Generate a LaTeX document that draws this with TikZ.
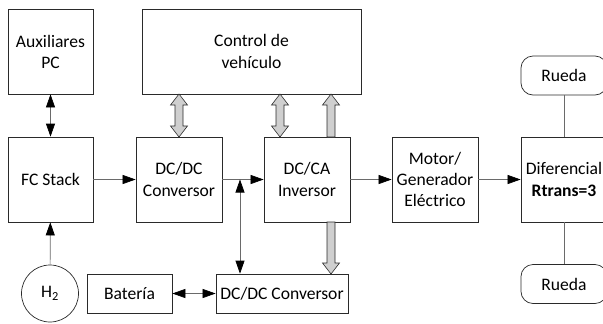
\documentclass[tikz,border=0pt]{standalone}
\usepackage{fontspec}
\setmainfont{Carlito}
\usetikzlibrary{positioning,arrows.meta,calc}
\definecolor{linegray}{HTML}{6A6A6A}
\definecolor{blockgray}{HTML}{CFCFCF}
\definecolor{edge}{HTML}{2A2A2A}

\begin{document}
\begin{tikzpicture}[x=0.03cm,y=-0.03cm,
    every node/.style={font=\fontsize{15}{18}\selectfont, align=center},
    box/.style={draw=edge, line width=0.6pt, minimum width=2.55cm, minimum height=2.55cm, inner sep=1pt},
    lowbox/.style={draw=edge, line width=0.6pt, minimum height=1.17cm, inner sep=1pt},
    wheel/.style={draw=edge, line width=0.6pt, rounded corners=0.36cm, minimum width=2.58cm, minimum height=1.17cm},
    flow/.style={draw=linegray, line width=0.6pt, -{Triangle[length=0.39cm,width=0.27cm,color=black]}},
    biflow/.style={draw=linegray, line width=0.6pt, {Triangle[length=0.39cm,width=0.27cm,color=black]}-{Triangle[length=0.39cm,width=0.27cm,color=black]}},
    plain/.style={draw=linegray, line width=0.6pt},
    fat/.style={draw=edge, fill=blockgray, line width=0.5pt, line join=miter}
  ]
    \clip (0,0) rectangle (603,323);

    % top row
    \node[box] (aux) at (50.5,51.5) {Auxiliares\\PC};
    \node[box, minimum width=6.57cm] (ctrl) at (251.5,51.5) {Control de\\vehículo};
    \node[wheel] (wheelup) at (564,75.5) {Rueda};

    % power chain
    \node[box] (fc) at (50.5,179.5) {FC Stack};
    \node[box, minimum width=2.58cm] (dcdc) at (179,179.5) {DC/DC\\Conversor};
    \node[box, minimum width=2.58cm] (dcca) at (307,179.5) {DC/CA\\Inversor};
    \node[box, minimum width=2.58cm] (motor) at (435,179.5) {Motor/\\Generador\\Eléctrico};
    \node[box, minimum width=2.58cm] (dif) at (564,179.5) {Diferencial\\\textbf{Rtrans=3}};

    % bottom row
    \node[draw=edge, line width=0.6pt, circle, minimum size=1.71cm, inner sep=0pt] (htwo) at (50,293.5) {H\textsubscript{2}};
    \node[lowbox, minimum width=2.55cm] (bat) at (129.5,293.5) {Batería};
    \node[lowbox, minimum width=3.96cm] (dcdclow) at (282,293.5) {DC/DC Conversor};
    \node[wheel] (wheeldown) at (564,284) {Rueda};

    % thin connectors
    \draw[biflow] (aux) -- (fc);
    \draw[flow] (htwo) -- (fc);
    \draw[flow] (fc) -- (dcdc);
    \draw[flow] (dcdc) -- (dcca);
    \coordinate (bus) at (240,179.5);
    \draw[biflow] (bus) -- (bus |- dcdclow.north);
    \draw[biflow] (bat) -- (dcdclow);
    \draw[flow] (dcca) -- (motor);
    \draw[flow] (motor) -- (dif);
    \draw[plain] (wheelup) -- (dif);
    \draw[plain] (dif) -- (wheeldown);

    % block arrows: shaft half width 4, head half width 8.5, head length 11
    % double-headed, between control (94) and the converters (137)
    \foreach \x in {179,280} {
      \draw[fat] (\x,94) -- (\x+8.5,105) -- (\x+4,105) -- (\x+4,126) -- (\x+8.5,126)
        -- (\x,137) -- (\x-8.5,126) -- (\x-4,126) -- (\x-4,105) -- (\x-8.5,105) -- cycle;
    }
    % single, up into the control
    \draw[fat] (331,94) -- (339.5,105) -- (335,105) -- (335,137) -- (327,137)
      -- (327,105) -- (322.5,105) -- cycle;
    % single, down into the lower converter
    \draw[fat] (331,274) -- (339.5,263) -- (335,263) -- (335,222) -- (327,222)
      -- (327,263) -- (322.5,263) -- cycle;
\end{tikzpicture}
\end{document}
